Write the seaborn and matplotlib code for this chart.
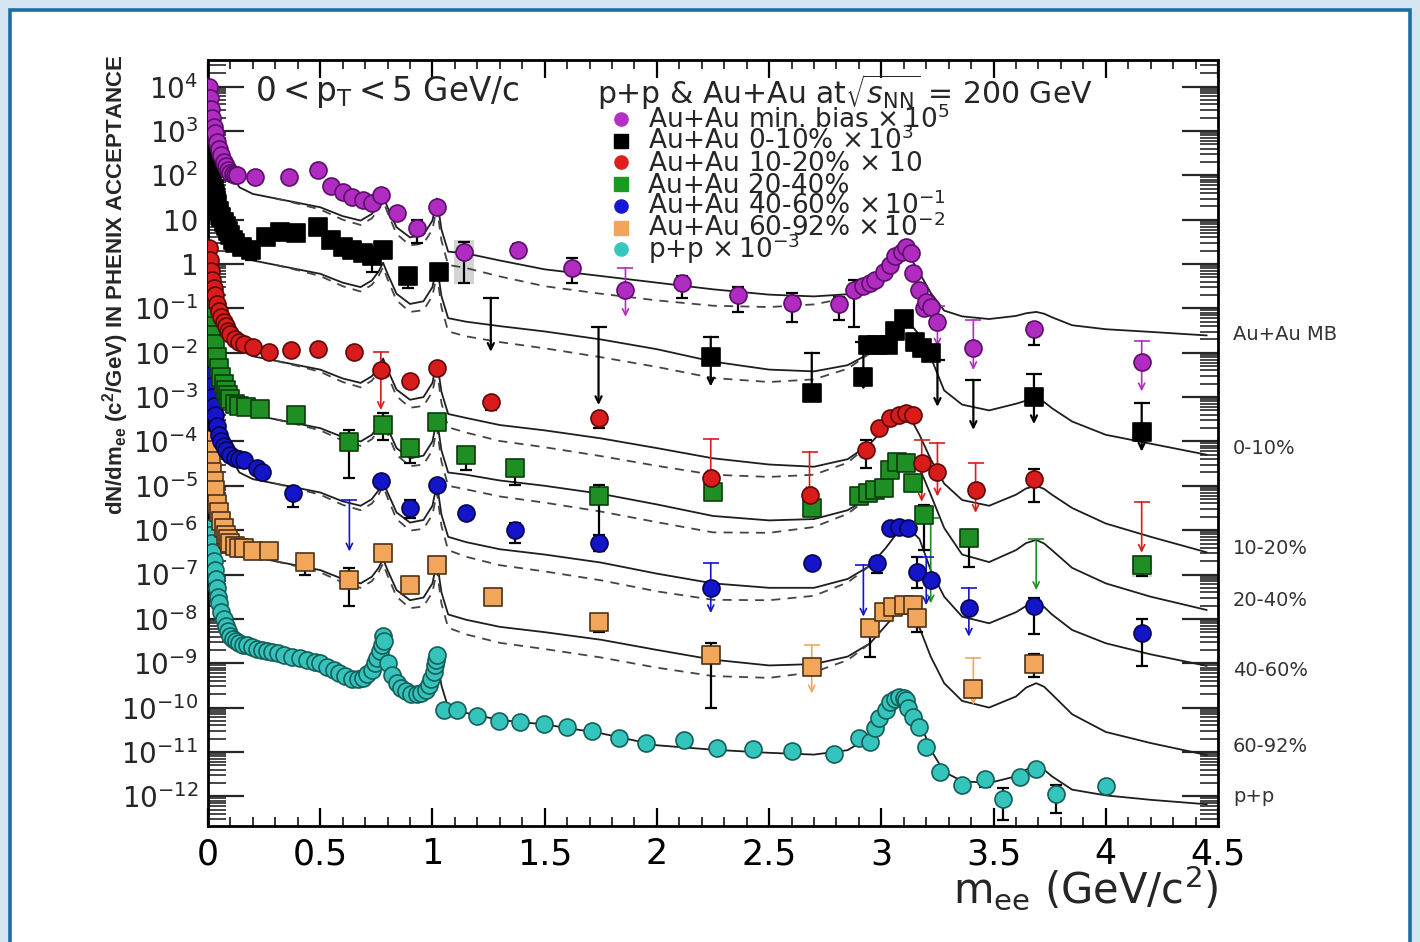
import numpy as np
import matplotlib
matplotlib.use("Agg")
import matplotlib.pyplot as plt
import seaborn as sns
from matplotlib.patches import Rectangle
from matplotlib.lines import Line2D
from matplotlib.ticker import FixedLocator, LogLocator, NullFormatter, FuncFormatter, MultipleLocator
from matplotlib import font_manager

# ---------------------------------------------------------------------------
# Dielectron invariant-mass spectra (values stored as log10 of dN/dm_ee)
# ---------------------------------------------------------------------------

# Au+Au minimum bias x 1e5
mb_m = [0.005, 0.01, 0.015, 0.02, 0.025, 0.03, 0.04, 0.05, 0.06, 0.07, 0.08, 0.09, 0.10, 0.11, 0.12, 0.13,
        0.21, 0.36, 0.49, 0.55, 0.60, 0.64, 0.69, 0.73, 0.77, 0.84, 0.93, 1.02, 1.14, 1.38, 1.62, 1.86,
        2.11, 2.36, 2.60, 2.81, 2.88, 2.92, 2.95, 2.97, 3.01, 3.04, 3.06, 3.09, 3.11, 3.13, 3.14, 3.17,
        3.19, 3.20, 3.22, 3.25, 3.41, 3.68, 4.16]
mb_v = [4.0, 3.75, 3.5, 3.3, 3.1, 2.95, 2.75, 2.6, 2.45, 2.3, 2.2, 2.12, 2.06, 2.02, 2.0, 2.0,
        1.97, 1.97, 2.12, 1.75, 1.63, 1.52, 1.45, 1.38, 1.56, 1.15, 0.81, 1.29, 0.28, 0.32, -0.09, -0.58,
        -0.43, -0.70, -0.87, -0.90, -0.58, -0.50, -0.43, -0.36, -0.17, -0.02, 0.17, 0.28, 0.39, 0.25, -0.21, -0.58,
        -0.99, -0.85, -0.96, -1.30, -1.90, -1.46, -2.20]
mb_err_m = [0.93, 1.14, 1.38, 1.62, 2.11, 2.36, 2.60, 2.81, 2.88, 3.68]
mb_err_hi = [0.99, 0.50, 0.45, 0.14, -0.27, -0.52, -0.65, -0.74, -0.36, -1.33]
mb_err_lo = [0.48, -0.43, 0.20, -0.43, -0.76, -1.08, -1.30, -1.26, -1.42, -1.82]
mb_lim_m = [1.86, 3.25, 3.41, 4.16]
mb_lim_top = [-0.09, -0.94, -1.26, -1.73]
mb_lim_tip = [-1.19, -1.86, -2.39, -2.87]
mb_sys_m = [1.14]
mb_sys_hi = [0.55]
mb_sys_lo = [-0.45]

# Au+Au 0-10% x 1e3
c0_m = [0.005, 0.01, 0.015, 0.02, 0.025, 0.03, 0.035, 0.04, 0.05, 0.06, 0.07, 0.08, 0.09, 0.10, 0.11, 0.12,
        0.15, 0.19, 0.26, 0.32, 0.39, 0.49, 0.55, 0.60, 0.64, 0.69, 0.73, 0.78, 0.89, 1.03,
        2.24, 2.69, 2.92, 2.94, 2.98, 3.03, 3.06, 3.10, 3.15, 3.18, 3.22, 3.68, 4.16]
c0_v = [2.45, 2.2, 2.0, 1.85, 1.7, 1.55, 1.45, 1.35, 1.2, 1.05, 0.95, 0.85, 0.75, 0.65, 0.55, 0.48,
        0.39, 0.32, 0.62, 0.73, 0.70, 0.84, 0.54, 0.39, 0.32, 0.25, 0.17, 0.32, -0.28, -0.17,
        -2.09, -2.91, -2.54, -1.82, -1.82, -1.82, -1.52, -1.24, -1.75, -1.90, -2.01, -3.00, -3.79]
c0_err_m = [0.19, 0.73, 0.89, 1.03]
c0_err_hi = [0.42, 0.25, -0.20, -0.10]
c0_err_lo = [0.09, -0.17, -0.54, -0.25]
c0_lim_m = [1.26, 1.74, 2.24, 2.69, 2.92, 3.25, 3.41, 3.68, 4.16]
c0_lim_top = [-0.76, -1.42, -1.64, -2.00, -1.75, -2.16, -2.61, -2.49, -3.13]
c0_lim_tip = [-1.98, -3.18, -2.76, -3.13, -2.84, -3.22, -3.74, -3.61, -4.23]

# Au+Au 10-20% x 10
c1_m = [0.005, 0.01, 0.015, 0.02, 0.025, 0.03, 0.04, 0.05, 0.06, 0.07, 0.08, 0.09, 0.10, 0.12, 0.14, 0.16, 0.20,
        0.27, 0.37, 0.49, 0.65, 0.77, 0.90, 1.02, 1.26, 1.74, 2.24, 2.68,
        2.93, 2.99, 3.04, 3.08, 3.11, 3.14, 3.18, 3.25, 3.42, 3.68]
c1_v = [0.36, 0.1, -0.15, -0.35, -0.55, -0.7, -0.9, -1.05, -1.2, -1.3, -1.4, -1.5, -1.58, -1.68, -1.75, -1.8, -1.86,
        -1.99, -1.94, -1.92, -1.99, -2.39, -2.64, -2.34, -3.10, -3.47, -4.83, -5.21,
        -4.19, -3.70, -3.47, -3.40, -3.36, -3.40, -4.49, -4.68, -5.09, -4.85]
c1_err_m = [1.26, 1.74, 2.93, 3.68]
c1_err_hi = [-3.00, -3.36, -3.97, -4.62]
c1_err_lo = [-3.29, -3.70, -4.60, -5.36]
c1_lim_m = [0.77, 2.24, 2.68, 3.18, 3.25, 3.42, 4.16]
c1_lim_top = [-1.98, -3.95, -4.23, -3.97, -4.03, -4.49, -5.36]
c1_lim_tip = [-3.29, -4.83, -5.21, -5.36, -5.24, -5.61, -6.51]

# Au+Au 20-40%
c2_m = [0.005, 0.01, 0.015, 0.02, 0.025, 0.03, 0.04, 0.05, 0.06, 0.07, 0.08, 0.09, 0.10, 0.12, 0.14,
        0.17, 0.23, 0.39, 0.63, 0.78, 0.90, 1.02, 1.15, 1.37, 1.74, 2.25, 2.69,
        2.90, 2.94, 2.97, 3.01, 3.04, 3.07, 3.11, 3.14, 3.19, 3.39, 4.16]
c2_v = [-0.81, -1.0, -1.2, -1.4, -1.6, -1.8, -2.1, -2.35, -2.55, -2.7, -2.85, -2.95, -3.05, -3.15, -3.2,
        -3.22, -3.26, -3.41, -4.01, -3.63, -4.14, -3.57, -4.30, -4.60, -5.24, -5.13, -5.50,
        -5.24, -5.17, -5.10, -5.05, -4.64, -4.46, -4.49, -4.93, -5.66, -6.18, -6.78]
c2_err_m = [0.63, 0.78, 0.90, 1.15, 1.37, 1.74, 3.19, 3.39, 4.16]
c2_err_hi = [-3.74, -3.36, -3.96, -4.15, -4.42, -4.98, -5.43, -6.00, -6.60]
c2_err_lo = [-4.83, -3.96, -4.49, -4.65, -4.98, -6.48, -6.45, -6.83, -7.03]
c2_lim_m = [3.22, 3.69]
c2_lim_top = [-5.73, -6.20]
c2_lim_tip = [-7.65, -7.35]
c2_sys_m = [4.16]
c2_sys_hi = [-6.55]
c2_sys_lo = [-7.05]

# Au+Au 40-60% x 1e-1
c3_m = [0.005, 0.01, 0.015, 0.02, 0.025, 0.03, 0.04, 0.05, 0.06, 0.07, 0.08, 0.10, 0.12, 0.14,
        0.16, 0.22, 0.24, 0.38, 0.77, 0.90, 1.02, 1.15, 1.37, 1.74, 2.24, 2.69, 2.98,
        3.04, 3.08, 3.12, 3.16, 3.22, 3.39, 3.68, 4.16]
c3_v = [-2.27, -2.5, -2.75, -3.0, -3.2, -3.4, -3.65, -3.85, -4.0, -4.1, -4.2, -4.3, -4.37, -4.4,
        -4.42, -4.60, -4.68, -5.17, -4.90, -5.50, -4.98, -5.62, -5.99, -6.30, -7.31, -6.75, -6.75,
        -5.96, -5.92, -5.96, -6.94, -7.12, -7.76, -7.70, -8.31]
c3_err_m = [0.38, 0.90, 1.37, 1.74, 2.98, 3.16, 3.68, 4.16]
c3_err_hi = [-5.02, -5.32, -5.84, -6.10, -6.60, -6.60, -7.52, -8.00]
c3_err_lo = [-5.47, -5.72, -6.29, -6.48, -6.97, -7.30, -8.35, -9.06]
c3_lim_m = [0.63, 2.24, 2.92, 3.20, 3.39]
c3_lim_top = [-5.32, -6.74, -6.78, -6.60, -7.30]
c3_lim_tip = [-6.48, -7.87, -7.95, -7.69, -8.40]

# Au+Au 60-92% x 1e-2
c4_m = [0.005, 0.01, 0.015, 0.02, 0.025, 0.03, 0.04, 0.05, 0.06, 0.07, 0.08, 0.09, 0.10, 0.12, 0.14,
        0.16, 0.20, 0.27, 0.43, 0.63, 0.78, 0.90, 1.02, 1.27, 1.74, 2.24, 2.69,
        2.95, 3.01, 3.05, 3.10, 3.14, 3.16, 3.41, 3.68]
c4_v = [-3.97, -4.2, -4.45, -4.7, -4.9, -5.1, -5.4, -5.6, -5.8, -5.95, -6.1, -6.2, -6.28, -6.35, -6.4,
        -6.41, -6.48, -6.48, -6.71, -7.12, -6.52, -7.24, -6.78, -7.50, -8.06, -8.81, -9.08,
        -8.21, -7.84, -7.73, -7.69, -7.69, -7.99, -9.57, -9.01]
c4_err_m = [0.43, 0.63, 0.90, 1.74, 2.24, 2.95, 3.16, 3.68]
c4_err_hi = [-6.56, -6.85, -7.08, -7.95, -8.55, -8.10, -7.85, -8.80]
c4_err_lo = [-7.00, -7.72, -7.40, -8.30, -10.02, -8.85, -8.30, -9.31]
c4_lim_m = [2.69, 3.41]
c4_lim_top = [-8.59, -8.88]
c4_lim_tip = [-9.68, -9.94]

# p+p x 1e-3
pp_m = [0.005, 0.01, 0.015, 0.02, 0.025, 0.03, 0.035, 0.04, 0.045, 0.05, 0.06, 0.07, 0.08, 0.09, 0.10, 0.11,
        0.125, 0.14, 0.155, 0.175, 0.195, 0.22, 0.24, 0.265, 0.285, 0.31, 0.34, 0.375, 0.41, 0.44, 0.475,
        0.50, 0.53, 0.56, 0.585, 0.61, 0.64, 0.67, 0.69, 0.71, 0.73, 0.745, 0.755, 0.765, 0.775, 0.78, 0.785,
        0.80, 0.82, 0.84, 0.86, 0.88, 0.905, 0.93, 0.95, 0.97, 0.985, 0.995, 1.005, 1.01, 1.015, 1.02,
        1.05, 1.11, 1.20, 1.295, 1.39, 1.495, 1.60, 1.71, 1.83, 1.95, 2.12, 2.27, 2.43, 2.60, 2.79,
        2.90, 2.95, 2.97, 2.99, 3.02, 3.04, 3.06, 3.08, 3.10, 3.11, 3.12, 3.14, 3.17, 3.20, 3.26,
        3.36, 3.46, 3.54, 3.62, 3.69, 3.78, 4.00]
pp_v = [-5.95, -6.1, -6.3, -6.5, -6.7, -6.9, -7.1, -7.3, -7.5, -7.65, -7.85, -8.0, -8.15, -8.28, -8.38, -8.45,
        -8.5, -8.55, -8.58, -8.6, -8.63, -8.67, -8.7, -8.72, -8.75, -8.78, -8.82, -8.85, -8.88, -8.92, -8.97,
        -9.0, -9.08, -9.15, -9.22, -9.28, -9.35, -9.35, -9.33, -9.25, -9.15, -9.0, -8.88, -8.72, -8.59, -8.39, -8.5,
        -9.0, -9.27, -9.45, -9.56, -9.63, -9.69, -9.7, -9.67, -9.6, -9.49, -9.35, -9.2, -9.05, -8.93, -8.82,
        -10.05, -10.05, -10.19, -10.3, -10.32, -10.37, -10.44, -10.53, -10.69, -10.8, -10.73, -10.92, -10.94, -10.99, -11.05,
        -10.69, -10.77, -10.47, -10.24, -10.05, -9.87, -9.8, -9.77, -9.78, -9.83, -10.02, -10.21, -10.43, -10.88, -11.45,
        -11.75, -11.6, -12.05, -11.56, -11.38, -11.95, -11.77]
pp_err_m = [3.36, 3.46, 3.54, 3.62, 3.78, 4.00]
pp_err_hi = [-11.65, -11.50, -11.81, -11.45, -11.75, -11.70]
pp_err_lo = [-11.85, -11.78, -12.53, -11.70, -12.38, -11.90]

# ---------------------------------------------------------------------------
# Hadronic cocktail expectations (log10), solid lines
# ---------------------------------------------------------------------------
cocktail_m_low = [0.00, 0.02, 0.05, 0.08, 0.11, 0.14, 0.20, 0.30, 0.40, 0.50, 0.60, 0.68, 0.73, 0.76,
                  0.78, 0.80, 0.84, 0.90, 0.96, 1.00, 1.02, 1.04, 1.07]
cocktail_shape_low = [-6.3, -6.7, -7.3, -7.9, -8.3, -8.55, -8.7, -8.8, -8.9, -9.0, -9.2, -9.3, -9.15, -8.95,
                      -8.75, -9.0, -9.45, -9.68, -9.62, -9.3, -8.8, -9.5, -10.0]
# normalisation (decades) of each spectrum below 1.1 GeV/c^2
cocktail_norm_low = {"mb": 10.28, "c0": 8.78, "c1": 6.62, "c2": 5.3, "c3": 3.85, "c4": 2.1, "pp": 0.0}

cocktail_m_high = [1.15, 1.30, 1.50, 1.75, 2.00, 2.25, 2.50, 2.70, 2.85, 2.95, 3.02, 3.08, 3.12, 3.17,
                   3.22, 3.28, 3.36, 3.48, 3.60, 3.645, 3.69, 3.725, 3.76, 3.85, 4.00, 4.20, 4.45]
cocktail_high_mb = [0.24, 0.08, -0.12, -0.27, -0.42, -0.57, -0.69, -0.73, -0.68, -0.43, -0.10, 0.25, 0.22, -0.20,
                    -0.65, -1.05, -1.18, -1.24, -1.17, -1.11, -1.08, -1.12, -1.20, -1.38, -1.47, -1.53, -1.61]
cocktail_high_c0 = [-1.30, -1.40, -1.52, -1.70, -1.92, -2.20, -2.38, -2.42, -2.28, -2.01, -1.65, -1.30, -1.30, -1.60,
                    -2.10, -2.85, -3.17, -3.30, -3.15, -3.08, -3.05, -3.11, -3.25, -3.55, -3.85, -4.05, -4.30]
cocktail_high_c1 = [-3.47, -3.63, -3.75, -3.93, -4.15, -4.38, -4.52, -4.57, -4.40, -4.05, -3.67, -3.42, -3.38, -3.85,
                    -4.40, -4.95, -5.32, -5.45, -5.20, -5.06, -5.00, -5.07, -5.20, -5.50, -5.85, -6.15, -6.50]
cocktail_high_c2 = [-4.75, -4.88, -5.00, -5.18, -5.42, -5.68, -5.78, -5.75, -5.55, -5.25, -4.85, -4.45, -4.36, -4.60,
                    -5.20, -5.95, -6.55, -6.72, -6.45, -6.29, -6.22, -6.30, -6.45, -6.85, -7.20, -7.50, -7.80]
cocktail_high_c3 = [-6.27, -6.43, -6.55, -6.73, -6.98, -7.20, -7.30, -7.30, -7.10, -6.80, -6.40, -6.00, -5.95, -6.20,
                    -6.90, -7.50, -7.95, -8.10, -7.85, -7.71, -7.65, -7.73, -7.90, -8.25, -8.55, -8.80, -9.06]
cocktail_high_c4 = [-8.02, -8.18, -8.30, -8.47, -8.70, -8.92, -9.05, -9.02, -8.85, -8.55, -8.15, -7.80, -7.78, -8.20,
                    -8.85, -9.45, -9.85, -10.00, -9.75, -9.55, -9.45, -9.53, -9.70, -10.15, -10.55, -10.80, -11.07]
cocktail_high_pp = [-10.12, -10.28, -10.38, -10.58, -10.85, -10.95, -11.02, -11.06, -10.96, -10.65, -10.15, -9.80,
                    -9.86, -10.30, -10.95, -11.45, -11.66, -11.70, -11.55, -11.40, -11.32, -11.40, -11.55, -11.85,
                    -11.98, -12.08, -12.18]

# alternative cocktail (dashed): decades below the solid one
alt_m = [0.30, 0.40, 0.50, 0.60, 0.68, 0.73, 0.76, 0.78, 0.80, 0.84, 0.90, 0.96, 1.00, 1.02, 1.04, 1.07,
         1.15, 1.30, 1.50, 1.75, 2.00, 2.25, 2.50, 2.70, 2.85, 2.95]
alt_shift = [0.0, 0.02, 0.05, 0.08, 0.10, 0.10, 0.10, 0.10, 0.12, 0.15, 0.18, 0.20, 0.20, 0.20, 0.25, 0.30,
             0.33, 0.36, 0.38, 0.40, 0.40, 0.37, 0.28, 0.18, 0.08, 0.0]

legend_labels = [r"Au+Au min. bias $\times\,10^{5}$",
                 r"Au+Au 0-10% $\times\,10^{3}$",
                 r"Au+Au 10-20% $\times$ 10",
                 r"Au+Au 20-40%",
                 r"Au+Au 40-60% $\times\,10^{-1}$",
                 r"Au+Au 60-92% $\times\,10^{-2}$",
                 r"p+p $\times\,10^{-3}$"]
side_labels = ["Au+Au MB", "0-10%", "10-20%", "20-40%", "40-60%", "60-92%", "p+p"]

# ---------------------------------------------------------------------------
sns.set_style("white")
plt.rcParams["font.family"] = ["DejaVu Sans"]
plt.rcParams["mathtext.fontset"] = "dejavusans"

W, H = 1420, 942
fig = plt.figure(figsize=(W / 100, H / 100), dpi=100)
fig.patch.set_facecolor("#d5e6f2")
fig.add_artist(Rectangle((10 / W, -0.05), (1410 - 10) / W, 1.05 - 10 / H,
                         transform=fig.transFigure, facecolor="white",
                         edgecolor="#1c6ea6", linewidth=2.6, zorder=-10))

ax = fig.add_axes([208 / W, 1 - 826 / H, (1218 - 208) / W, (826 - 60) / H])
ax.set_zorder(1)
ax.set_yscale("log")
ax.set_xlim(0, 4.5)
ax.set_ylim(10 ** -12.67, 10 ** 4.60)

styles = {
    "mb": dict(marker="o", fill="#b02cc0", edge="#5b0f6b", leg="#b42fc6"),
    "c0": dict(marker="s", fill="#000000", edge="#000000", leg="#000000"),
    "c1": dict(marker="o", fill="#d81c1c", edge="#5e0808", leg="#e0201e"),
    "c2": dict(marker="s", fill="#1e8f22", edge="#0b3d0d", leg="#1b9a22"),
    "c3": dict(marker="o", fill="#1414c8", edge="#06064f", leg="#1616d6"),
    "c4": dict(marker="s", fill="#f2a65a", edge="#4e3218", leg="#f0a45c"),
    "pp": dict(marker="o", fill="#35c4bb", edge="#145e5a", leg="#36c8c0"),
}

series = {
    "mb": (mb_m, mb_v, mb_err_m, mb_err_hi, mb_err_lo, mb_lim_m, mb_lim_top, mb_lim_tip, cocktail_high_mb),
    "c0": (c0_m, c0_v, c0_err_m, c0_err_hi, c0_err_lo, c0_lim_m, c0_lim_top, c0_lim_tip, cocktail_high_c0),
    "c1": (c1_m, c1_v, c1_err_m, c1_err_hi, c1_err_lo, c1_lim_m, c1_lim_top, c1_lim_tip, cocktail_high_c1),
    "c2": (c2_m, c2_v, c2_err_m, c2_err_hi, c2_err_lo, c2_lim_m, c2_lim_top, c2_lim_tip, cocktail_high_c2),
    "c3": (c3_m, c3_v, c3_err_m, c3_err_hi, c3_err_lo, c3_lim_m, c3_lim_top, c3_lim_tip, cocktail_high_c3),
    "c4": (c4_m, c4_v, c4_err_m, c4_err_hi, c4_err_lo, c4_lim_m, c4_lim_top, c4_lim_tip, cocktail_high_c4),
    "pp": (pp_m, pp_v, pp_err_m, pp_err_hi, pp_err_lo, [], [], [], cocktail_high_pp),
}

# systematic boxes
for sm, shi, slo in ((mb_sys_m, mb_sys_hi, mb_sys_lo), (c2_sys_m, c2_sys_hi, c2_sys_lo)):
    for m, hi, lo in zip(sm, shi, slo):
        ax.fill_between([m - 0.045, m + 0.045], 10 ** lo, 10 ** hi, color="#d4d4d4", lw=0, zorder=1)

curve_m = np.array(cocktail_m_low + cocktail_m_high)
for key, (m, v, em, ehi, elo, lm, ltop, ltip, high) in series.items():
    st = styles[key]
    # cocktail lines
    solid = np.array([s + cocktail_norm_low[key] for s in cocktail_shape_low] + list(high))
    sns.lineplot(x=curve_m, y=10 ** solid, ax=ax, color="#1e1e1e", lw=1.3,
                 estimator=None, sort=False, legend=False, zorder=2)
    if key != "pp":
        alt = np.interp(alt_m, curve_m, solid) - np.array(alt_shift)
        sns.lineplot(x=np.array(alt_m), y=10 ** alt, ax=ax, color="#444444", lw=1.3,
                     linestyle=(0, (5, 4)), estimator=None, sort=False, legend=False, zorder=2)
    # statistical error bars
    if em:
        top = 10 ** np.array(ehi)
        bot = 10 ** np.array(elo)
        ax.errorbar(em, top, yerr=[top - bot, np.zeros_like(top)], fmt="none", ecolor="black",
                    elinewidth=1.6, capsize=4.2, capthick=1.6, zorder=3)
    # upper limits
    lc = "black" if key == "c0" else st["fill"]
    llw = 1.6 if key == "c0" else 1.2
    for x, t, b in zip(lm, ltop, ltip):
        ax.annotate("", xy=(x, 10 ** b), xytext=(x, 10 ** t),
                    arrowprops=dict(arrowstyle="->,head_length=0.45,head_width=0.22", color=lc,
                                    lw=llw, shrinkA=0, shrinkB=0), zorder=3)
        ax.plot([x], [10 ** t], marker="_", ms=11, mew=llw, color=lc, zorder=3)

# data points (drawn last so they sit on top of lines)
for key in ["pp", "c4", "c3", "c2", "c1", "c0", "mb"]:
    m, v = series[key][0], series[key][1]
    st = styles[key]
    sns.scatterplot(x=np.array(m), y=10 ** np.array(v), ax=ax, marker=st["marker"], s=150,
                    color=st["fill"], edgecolor=st["edge"], linewidth=1.2, legend=False, zorder=4)


# axes, ticks
def ylabel_fmt(val, pos):
    n = int(round(np.log10(val)))
    if n == 0:
        return "1"
    if n == 1:
        return "10"
    return r"$10^{%d}$" % n


ax.yaxis.set_major_locator(FixedLocator([10.0 ** n for n in range(-12, 5)]))
ax.yaxis.set_major_formatter(FuncFormatter(ylabel_fmt))
ax.yaxis.set_minor_locator(LogLocator(base=10, subs=np.arange(2, 10), numticks=100))
ax.yaxis.set_minor_formatter(NullFormatter())
ax.xaxis.set_major_locator(MultipleLocator(0.5))
ax.xaxis.set_minor_locator(MultipleLocator(0.1))
ax.xaxis.set_major_formatter(FuncFormatter(lambda v, p: "%g" % v))
ax.tick_params(axis="x", which="major", direction="in", length=13, width=1.6, top=True, bottom=True,
               labelsize=25, pad=8, colors="black")
ax.tick_params(axis="x", which="minor", direction="in", length=6.5, width=1.3, top=True, bottom=True)
ax.tick_params(axis="y", which="major", direction="in", length=26, width=1.6, left=True, right=True,
               labelsize=20, pad=7)
ax.tick_params(axis="y", which="minor", direction="in", length=13, width=1.2, left=True, right=True)
for sp in ax.spines.values():
    sp.set_linewidth(2.0)
    sp.set_color("black")
ax.set_xlabel("")
ax.set_ylabel("")


def fx(px):
    return px / W


def fy(py):
    return 1 - py / H


# header texts
fig.text(fx(255), fy(92), r"$0<\mathrm{p}_{\rm T}<5$ GeV/c", fontsize=23.5, va="center", ha="left")
fig.text(fx(597), fy(92), r"p+p & Au+Au at$\sqrt{s_{\rm NN}}$ = 200 GeV", fontsize=21.5, va="center", ha="left")

# legend
keys = ["mb", "c0", "c1", "c2", "c3", "c4", "pp"]
for i, (key, lab) in enumerate(zip(keys, legend_labels)):
    ypx = 119 + i * 21.7
    st = styles[key]
    fig.add_artist(Line2D([fx(621)], [fy(ypx)], transform=fig.transFigure, marker=st["marker"],
                          ms=9.5, color=st["leg"], mec=st["leg"], ls="none"))
    fig.text(fx(648), fy(ypx + 8.5), lab, fontsize=19, va="baseline", ha="left")

# labels to the right of the frame
side_y = [335, 449, 548, 600, 671, 746, 796]
for lab, ypx in zip(side_labels, side_y):
    fig.text(fx(1233), fy(ypx), lab, fontsize=14, color="#333333", va="center", ha="left")

# axis titles
fig.text(fx(1218), fy(888), r"m$_{\rm ee}$ (GeV/c$^{2}$)", fontsize=30, ha="right", va="center")

names = {f.name for f in font_manager.fontManager.ttflist}
if "Liberation Sans Narrow" in names:
    yfam, ysize = "Liberation Sans Narrow", 18.5
else:
    yfam, ysize = "Liberation Sans", 16
plt.rcParams["mathtext.rm"] = yfam + ":bold"
fig.text(fx(116), fy(55), r"dN/dm$_{\rm ee}$ (c$^{2}$/GeV) IN PHENIX ACCEPTANCE", rotation=90,
         ha="center", va="top", fontsize=ysize, family=[yfam, "DejaVu Sans"], fontweight="bold",
         math_fontfamily="custom")

fig.savefig("out.png", dpi=100, facecolor=fig.get_facecolor())
